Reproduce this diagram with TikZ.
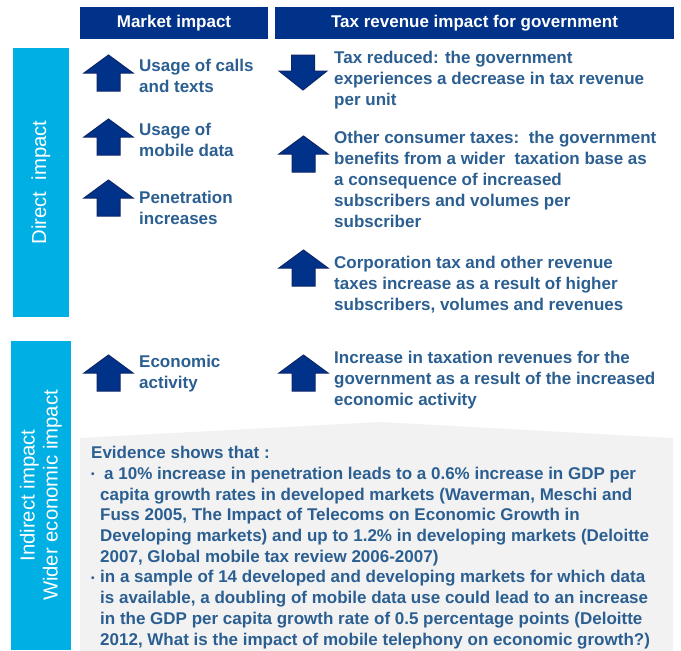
\documentclass[tikz,border=0pt]{standalone}
\usepackage{fontspec}
\setmainfont{Liberation Sans}
\definecolor{navy}{RGB}{1,50,138}
\definecolor{navyedge}{RGB}{12,38,104}
\definecolor{skyblue}{RGB}{0,175,227}
\definecolor{txtblue}{RGB}{44,95,145}
\definecolor{evgray}{RGB}{242,242,242}
\newcommand\evbul[1]{\makebox[#1][l]{\fontsize{10}{10}\selectfont\raisebox{1.5pt}{•}}}

\begin{document}
\begin{tikzpicture}[x=1pt,y=-1pt,
  hd/.style={fill=navy,text=white,inner sep=0,font=\bfseries\fontsize{17}{19}\selectfont},
  bar/.style={fill=skyblue,rotate=90,inner sep=0,text=white,align=center,font=\fontsize{20.3}{23}\selectfont},
  txt/.style={anchor=base west,inner sep=0,align=left,text=txtblue,font=\bfseries\fontsize{17}{21}\selectfont},
  uparr/.pic={\draw[fill=navy,draw=navyedge,line width=1pt] (-11.5,0) -- (-11.5,-18) -- (-24.5,-18) -- (0,-36) -- (24.5,-18) -- (11.5,-18) -- (11.5,0) -- cycle;},
  downarr/.pic={\draw[fill=navy,draw=navyedge,line width=1pt] (-11.5,0) -- (-11.5,16) -- (-24,16) -- (0,35) -- (24,16) -- (11.5,16) -- (11.5,0) -- cycle;}]
\useasboundingbox[fill=white] (0,0) rectangle (681,651);

\node[hd,minimum width=188pt,minimum height=32pt] (hdmarket) at (174,23) {Market impact};
\node[hd,minimum width=399pt,minimum height=32pt] (hdtax) at (474.5,23) {Tax revenue impact for government};

\node[bar,minimum width=269pt,minimum height=56pt] (bardirect) at (41,182.5) {Direct\ \ impact};
\node[bar,minimum width=309pt,minimum height=60pt] (barindirect) at (41,495.5) {Indirect impact\\Wider economic impact};

\fill[evgray] (80,438) -- (380,422) -- (673,438) -- (673,651) -- (80,651) -- cycle;

\pic at (108.5,91) {uparr};
\pic at (108.5,155) {uparr};
\pic at (108.5,216) {uparr};
\pic at (108.5,391) {uparr};
\pic at (303,55) {downarr};
\pic at (303.5,172) {uparr};
\pic at (303.5,286) {uparr};
\pic at (303.5,391) {uparr};

\node[txt] (calls) at (139,92) {Usage of calls\\and texts};
\node[txt] (data) at (139,156) {Usage of\\mobile data};
\node[txt] (penetration) at (139,224) {Penetration\\increases};
\node[txt] (economic) at (139,388) {Economic\\activity};

\node[txt] (taxreduced) at (334,105) {Tax reduced: the government\\experiences a decrease in tax revenue\\per unit};
\node[txt] (consumertax) at (334,227) {Other consumer taxes:\ \ the government\\benefits from a wider\ \ taxation base as\\a consequence of increased\\subscribers and volumes per\\subscriber};
\node[txt] (corporation) at (334,310) {Corporation tax and other revenue\\taxes increase as a result of higher\\subscribers, volumes and revenues};
\node[txt] (taxation) at (334,405) {Increase in taxation revenues for the\\government as a result of the increased\\economic activity};

\node[txt,font=\bfseries\fontsize{17}{20.7}\selectfont] (evidence) at (91,645) {Evidence shows that :\\
\evbul{13pt}a 10\% increase in penetration leads to a 0.6\% increase in GDP per\\
\hspace*{9pt}capita growth rates in developed markets (Waverman, Meschi and\\
\hspace*{9pt}Fuss 2005, The Impact of Telecoms on Economic Growth in\\
\hspace*{9pt}Developing markets) and up to 1.2\% in developing markets (Deloitte\\
\hspace*{9pt}2007, Global mobile tax review 2006-2007)\\
\evbul{9pt}in a sample of 14 developed and developing markets for which data\\
\hspace*{9pt}is available, a doubling of mobile data use could lead to an increase\\
\hspace*{9pt}in the GDP per capita growth rate of 0.5 percentage points (Deloitte\\
\hspace*{9pt}2012, What is the impact of mobile telephony on economic growth?)};
\end{tikzpicture}
\end{document}
